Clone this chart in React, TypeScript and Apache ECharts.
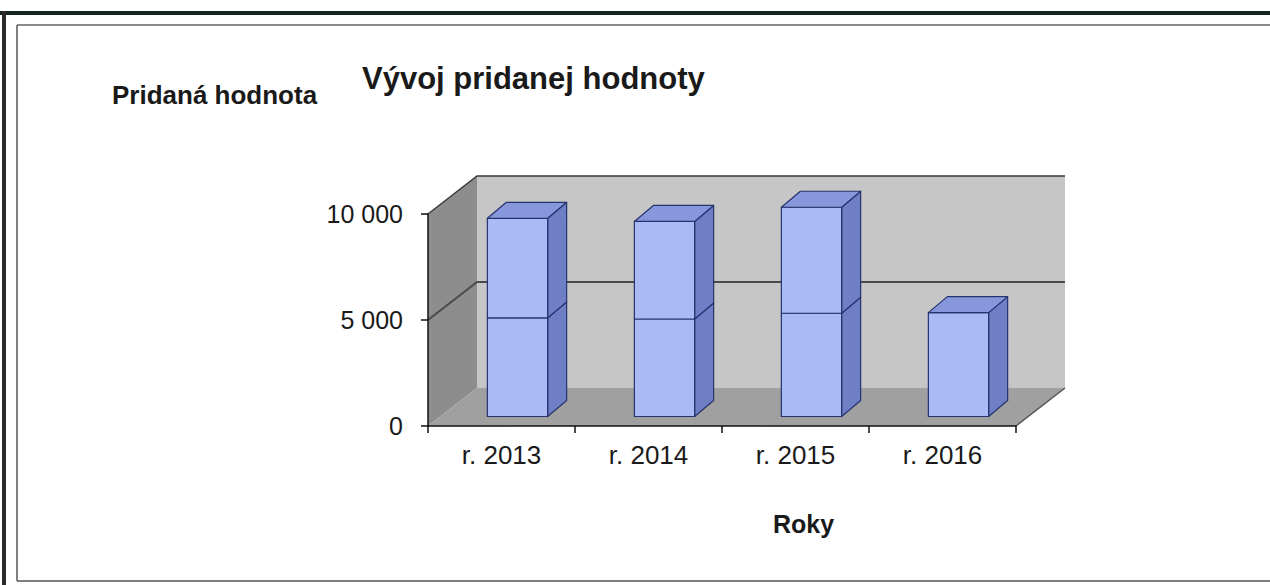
import React, { useEffect, useRef } from 'react';
import * as echarts from 'echarts';

const categories = ['r. 2013', 'r. 2014', 'r. 2015', 'r. 2016'];
const lowerValues = [4650, 4600, 4870, 4900];
const upperValues = [4700, 4600, 5000, 0];
const yTicks = [0, 5000, 10000];
const yMin = 0;
const yMax = 10000;
const yInterval = 5000;

const chartTitle = 'Vývoj pridanej hodnoty';
const yAxisTitle = 'Pridaná hodnota';
const xAxisTitle = 'Roky';

// 3D projection styling
const DEPTH_X = 49;
const DEPTH_Y = -38;
const BAR_SHIFT_X = 16;
const BAR_SHIFT_Y = -9.5;
const BAR_DEPTH_X = 19;
const BAR_DEPTH_Y = -16;
const BAR_WIDTH_RATIO = 0.41;

const FONT = '"Liberation Sans", Arial, sans-serif';
const TEXT = '#1a1a1a';

function fmt(v: number): string {
  return String(v).replace(/\B(?=(\d{3})+(?!\d))/g, ' ');
}

export default function App() {
  const ref = useRef<HTMLDivElement>(null);

  useEffect(() => {
    if (!ref.current) return;
    const chart = echarts.init(ref.current, undefined, { renderer: 'svg' });

    const wallsRender = (params: any, api: any) => {
      const cs = params.coordSys;
      const x0 = cs.x;
      const x1 = cs.x + cs.width;
      const yb = api.coord([0, yMin])[1];
      const yt = api.coord([0, yMax])[1];
      const children: any[] = [
        {
          type: 'polygon',
          shape: { points: [[x0, yb], [x0, yt], [x0 + DEPTH_X, yt + DEPTH_Y], [x0 + DEPTH_X, yb + DEPTH_Y]] },
          style: { fill: '#8d8d8d', stroke: null },
        },
        {
          type: 'polygon',
          shape: { points: [[x0 + DEPTH_X, yt + DEPTH_Y], [x1 + DEPTH_X, yt + DEPTH_Y], [x1 + DEPTH_X, yb + DEPTH_Y], [x0 + DEPTH_X, yb + DEPTH_Y]] },
          style: { fill: '#c6c6c6', stroke: null },
        },
        {
          type: 'polygon',
          shape: { points: [[x0, yb], [x1, yb], [x1 + DEPTH_X, yb + DEPTH_Y], [x0 + DEPTH_X, yb + DEPTH_Y]] },
          style: { fill: '#a0a0a0', stroke: null },
        },
      ];
      yTicks.forEach((v) => {
        if (v > yMin && v < yMax) {
          const y = api.coord([0, v])[1];
          children.push({
            type: 'polyline',
            shape: { points: [[x0, y], [x0 + DEPTH_X, y + DEPTH_Y], [x1 + DEPTH_X, y + DEPTH_Y]] },
            style: { stroke: '#4a4a4a', lineWidth: 2, fill: null },
          });
        }
      });
      children.push({
        type: 'polyline',
        shape: { points: [[x0, yt], [x0 + DEPTH_X, yt + DEPTH_Y], [x1 + DEPTH_X, yt + DEPTH_Y]] },
        style: { stroke: '#3a3a3a', lineWidth: 1.5, fill: null },
      });
      children.push({
        type: 'line',
        shape: { x1: x1, y1: yb, x2: x1 + DEPTH_X, y2: yb + DEPTH_Y },
        style: { stroke: '#555', lineWidth: 1.5 },
      });
      return { type: 'group', children };
    };

    const barsRender = (params: any, api: any) => {
      const i = api.value(0);
      const lo = api.value(1);
      const up = api.value(2);
      const c0 = api.coord([i, 0]);
      const c1 = api.coord([i, lo]);
      const c2 = api.coord([i, lo + up]);
      const bw = api.size([1, 0])[0] * BAR_WIDTH_RATIO;
      const xl = c0[0] - bw / 2 + BAR_SHIFT_X;
      const xr = xl + bw;
      const segs: number[][] = [[c0[1] + BAR_SHIFT_Y, c1[1] + BAR_SHIFT_Y]];
      if (up > 0) segs.push([c1[1] + BAR_SHIFT_Y, c2[1] + BAR_SHIFT_Y]);
      const edge = { stroke: '#27336e', lineWidth: 1.2, lineJoin: 'round' };
      const children: any[] = [];
      segs.forEach(([ya, yz]) => {
        children.push({
          type: 'polygon',
          shape: { points: [[xr, yz], [xr + BAR_DEPTH_X, yz + BAR_DEPTH_Y], [xr + BAR_DEPTH_X, ya + BAR_DEPTH_Y], [xr, ya]] },
          style: { fill: '#6e7fc6', ...edge },
        });
        children.push({
          type: 'polygon',
          shape: { points: [[xl, yz], [xr, yz], [xr, ya], [xl, ya]] },
          style: { fill: '#aabaf5', ...edge },
        });
      });
      const yTop = segs[segs.length - 1][1];
      children.push({
        type: 'polygon',
        shape: { points: [[xl, yTop], [xr, yTop], [xr + BAR_DEPTH_X, yTop + BAR_DEPTH_Y], [xl + BAR_DEPTH_X, yTop + BAR_DEPTH_Y]] },
        style: { fill: '#8797db', ...edge },
      });
      return { type: 'group', children };
    };

    chart.setOption({
      animation: false,
      backgroundColor: '#ffffff',
      title: [
        {
          text: chartTitle,
          left: 357,
          top: 58,
          textStyle: { fontFamily: FONT, fontSize: 31, fontWeight: 'bold', color: TEXT },
        },
        {
          text: yAxisTitle,
          left: 107,
          top: 77,
          textStyle: { fontFamily: FONT, fontSize: 26, fontWeight: 'bold', color: TEXT },
        },
        {
          text: xAxisTitle,
          left: 768,
          top: 506,
          textStyle: { fontFamily: FONT, fontSize: 25, fontWeight: 'bold', color: TEXT },
        },
      ],
      grid: { left: 428, top: 214, width: 588, height: 212, containLabel: false },
      xAxis: {
        type: 'category',
        data: categories,
        z: 10,
        boundaryGap: true,
        axisLine: { show: true, lineStyle: { color: '#111', width: 1.5 } },
        axisTick: { show: true, length: 7, alignWithLabel: false, lineStyle: { color: '#111', width: 1.5 } },
        axisLabel: { fontFamily: FONT, fontSize: 26, color: TEXT, margin: 16 },
        splitLine: { show: false },
      },
      yAxis: {
        type: 'value',
        min: yMin,
        max: yMax,
        interval: yInterval,
        z: 10,
        axisLine: { show: true, lineStyle: { color: '#111', width: 1.5 } },
        axisTick: { show: true, length: 7, lineStyle: { color: '#111', width: 1.5 } },
        axisLabel: { fontFamily: FONT, fontSize: 25, color: TEXT, margin: 25, formatter: (v: number) => fmt(v) },
        splitLine: { show: false },
      },
      series: [
        {
          type: 'custom',
          name: 'walls',
          silent: true,
          z: 1,
          renderItem: wallsRender,
          data: [[0, 0]],
          encode: { x: 0, y: 1 },
        },
        {
          type: 'custom',
          name: 'bars',
          z: 3,
          renderItem: barsRender,
          data: categories.map((c, i) => [i, lowerValues[i], upperValues[i]]),
          encode: { x: 0, y: 1 },
        },
      ],
      graphic: [
        { type: 'line', shape: { x1: 0, y1: 13, x2: 1270, y2: 13 }, style: { stroke: '#17241d', lineWidth: 4 } },
        { type: 'line', shape: { x1: 4, y1: 11, x2: 4, y2: 585 }, style: { stroke: '#2a2a2a', lineWidth: 4 } },
        { type: 'line', shape: { x1: 17, y1: 25, x2: 1270, y2: 25 }, style: { stroke: '#666', lineWidth: 1.5 } },
        { type: 'line', shape: { x1: 17, y1: 25, x2: 17, y2: 581 }, style: { stroke: '#555', lineWidth: 1.5 } },
        { type: 'line', shape: { x1: 17, y1: 581, x2: 1270, y2: 581 }, style: { stroke: '#555', lineWidth: 1.5 } },
      ],
    });

    return () => chart.dispose();
  }, []);

  return (
    <div
      ref={ref}
      style={{ position: 'absolute', left: 0, top: 0, width: 1270, height: 585, background: '#fff' }}
    />
  );
}
